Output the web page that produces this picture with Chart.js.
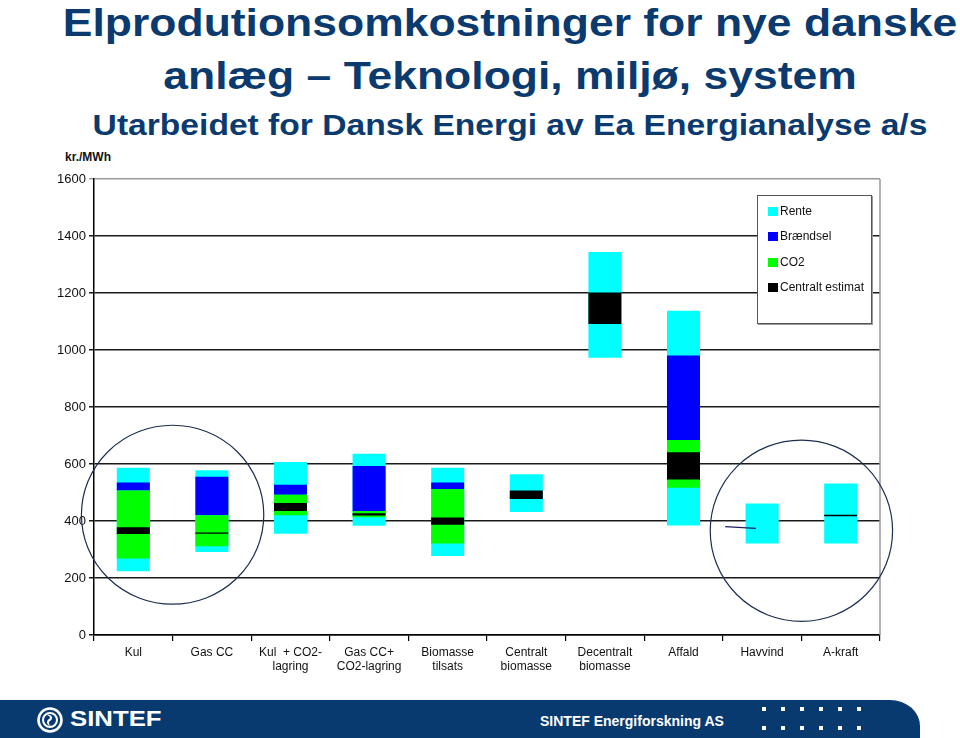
<!DOCTYPE html>
<html>
<head>
<meta charset="utf-8">
<script src="https://cdn.jsdelivr.net/npm/chart.js@4.4.0/dist/chart.umd.min.js"></script>
<style>
  html, body { margin: 0; padding: 0; background: #fff; }
  body { width: 960px; height: 738px; position: relative; overflow: hidden; font-family: "Liberation Sans", Arial, sans-serif; }
  .t { position: absolute; left: 0; width: 1020px; text-align: center; color: #0b3a6e; font-weight: bold; white-space: nowrap; transform-origin: 510px 0; }
  #chartWrap { position: absolute; left: 0; top: 140px; width: 960px; height: 545px; }
  #unit { position: absolute; left: 65px; top: 150px; font-size: 12px; font-weight: bold; color: #111; }
  #legend { position: absolute; left: 757px; top: 195px; width: 115px; height: 129px; background: #fff; border: 1px solid #555; box-shadow: 1px 1px 0 #999; box-sizing: border-box; }
  .li { position: absolute; left: 10px; height: 14px; font-size: 12px; color: #111; line-height: 14px; white-space: nowrap; }
  .li span.sw { display: inline-block; width: 10px; height: 9px; vertical-align: -1px; margin-right: 2px; }
  #footer { position: absolute; left: 0; top: 700px; width: 920px; height: 38px; background: #083a6f; border-top-right-radius: 30px 26px; }
  #sintef { position: absolute; left: 70px; top: 706px; font-size: 22px; font-weight: bold; color: #fff; transform: scaleX(1.17); transform-origin: 0 0; line-height: 26px; }
  #energi { position: absolute; left: 540px; top: 713px; font-size: 14px; font-weight: bold; color: #fff; line-height: 16px; }
  .dot { position: absolute; width: 4px; height: 4px; background: #fff; }
</style>
</head>
<body>
<div class="t" style="top:4px;font-size:38px;line-height:38px;transform:scaleX(1.17);">Elprodutionsomkostninger for nye danske</div>
<div class="t" style="top:57px;font-size:38px;line-height:38px;transform:scaleX(1.17);">anlæg – Teknologi, miljø, system</div>
<div class="t" style="top:110px;font-size:30px;line-height:30px;transform:scaleX(1.12);">Utarbeidet for Dansk Energi av Ea Energianalyse a/s</div>
<div id="unit">kr./MWh</div>
<div id="chartWrap"><canvas id="c" width="960" height="545"></canvas></div>
<div id="legend"></div>
<div id="footer"></div>
<svg style="position:absolute;left:36px;top:706px" width="28" height="28" viewBox="0 0 28 28">
  <circle cx="14" cy="14" r="11.5" fill="none" stroke="#fff" stroke-width="2.6"/>
  <circle cx="14" cy="14" r="7" fill="none" stroke="#fff" stroke-width="2"/>
  <path d="M11 9 C 16 8, 18 13, 14 15 C 12 16, 13 19, 15 20 C 10 19, 10 15, 13 13 C 15 12, 14 10, 11 9 Z" fill="#fff"/>
</svg>
<div id="sintef">SINTEF</div>
<div id="energi">SINTEF Energiforskning AS</div>
<div id="dots"></div>
<script>
// ---------- DATA ----------
const categories = ["Kul", "Gas CC", ["Kul  + CO2-", "lagring"], ["Gas CC+", "CO2-lagring"], ["Biomasse", "tilsats"], ["Centralt", "biomasse"], ["Decentralt", "biomasse"], "Affald", "Havvind", "A-kraft"];
const seriesNames = ["Rente", "Brændsel", "CO2", "Centralt estimat"];
const seriesColors = ["#00ffff", "#0000ff", "#00ff00", "#000000"];
const renteRange = [[224, 587], [291, 578], [355, 607], [383, 636], [277, 587], [432, 564], [973, 1344], [384, 1138], [321, 461], [321, 532]];
const braendselRange = [[507, 535], [420, 555], [492, 527], [435, 593], [512, 535], null, null, [684, 981], null, null];
const co2Range = [[268, 507], [311, 420], [420, 492], [413, 435], [321, 512], null, null, [517, 684], null, null];
const centralRange = [[354, 378], [355, 360], [435, 463], [419, 427], [387, 412], [477, 507], [1091, 1202], [546, 641], null, [417, 422]];
const yTickValues = [0, 200, 400, 600, 800, 1000, 1200, 1400, 1600];
// annotations (data space): ellipses [centerCategory, centerValue, radiusCategories, radiusValue]
const ellipseNotes = [[0.5, 422, 1.16, 314], [8.5, 366, 1.16, 318]];
// hand-drawn pointer line next to Havvind: [cat1, val1, cat2, val2]
const lineNotes = [[7.53, 380, 7.92, 374]];

// ---------- LEGEND ----------
const legendEl = document.getElementById('legend');
const legendRows = [15, 40, 66, 91];
seriesNames.forEach((n, i) => {
  const d = document.createElement('div');
  d.className = 'li';
  d.style.top = (legendRows[i] - 7) + 'px';
  d.innerHTML = '<span class="sw" style="background:' + seriesColors[i] + '"></span>' + n;
  legendEl.appendChild(d);
});
// footer dots
const dotsEl = document.getElementById('dots');
for (let r = 0; r < 2; r++) for (let k = 0; k < 6; k++) {
  const d = document.createElement('div');
  d.className = 'dot';
  d.style.left = (762 + 19 * k) + 'px';
  d.style.top = (707 + 19 * r) + 'px';
  dotsEl.appendChild(d);
}

// ---------- CHART ----------
const notesPlugin = {
  id: 'notes',
  afterDatasetsDraw(chart) {
    const ctx = chart.ctx, xs = chart.scales.x, ys = chart.scales.y;
    const catW = xs.getPixelForValue(1) - xs.getPixelForValue(0);
    ctx.save();
    ctx.strokeStyle = '#999';
    ctx.lineWidth = 1.5;
    ctx.beginPath();
    ctx.moveTo(chart.chartArea.right, chart.chartArea.top);
    ctx.lineTo(chart.chartArea.right, chart.chartArea.bottom);
    ctx.stroke();
    ctx.strokeStyle = '#1c2f4f';
    ctx.lineWidth = 1.2;
    ellipseNotes.forEach(e => {
      const cx = xs.getPixelForValue(0) + e[0] * catW;
      const cy = ys.getPixelForValue(e[1]);
      const rx = e[2] * catW;
      const ry = Math.abs(ys.getPixelForValue(e[1] + e[3]) - cy);
      ctx.beginPath();
      ctx.ellipse(cx, cy, rx, ry, 0, 0, Math.PI * 2);
      ctx.stroke();
    });
    ctx.strokeStyle = '#1c2060';
    ctx.lineWidth = 1.3;
    lineNotes.forEach(l => {
      ctx.beginPath();
      ctx.moveTo(xs.getPixelForValue(0) + l[0] * catW, ys.getPixelForValue(l[1]));
      ctx.lineTo(xs.getPixelForValue(0) + l[2] * catW, ys.getPixelForValue(l[3]));
      ctx.stroke();
    });
    ctx.restore();
  }
};

const allRanges = [renteRange, braendselRange, co2Range, centralRange];
const datasets = seriesNames.map((n, i) => ({
  label: n,
  data: allRanges[i],
  backgroundColor: seriesColors[i],
  borderWidth: 0,
  grouped: false,
  order: 4 - i,
  barPercentage: 0.42,
  categoryPercentage: 1.0
}));

new Chart(document.getElementById('c'), {
  type: 'bar',
  data: { labels: categories, datasets: datasets },
  options: {
    responsive: false,
    animation: false,
    layout: { padding: { left: 0, right: 80, top: 39, bottom: 0 } },
    plugins: { legend: { display: false }, tooltip: { enabled: false } },
    scales: {
      x: {
        afterFit(s) { s.height = 50; },
        grid: { drawOnChartArea: false, drawTicks: true, tickLength: 6, color: '#000', lineWidth: 1.2 },
        border: { display: true, color: '#000', width: 1.5 },
        ticks: { color: '#111', font: { family: '"Liberation Sans", Arial, sans-serif', size: 12 }, padding: 4, maxRotation: 0, autoSkip: false }
      },
      y: {
        min: 0, max: 1600,
        afterFit(s) { s.width = 94; },
        afterBuildTicks(s) { s.ticks = yTickValues.map(v => ({ value: v })); },
        grid: {
          color: ctx => (ctx.tick && ctx.tick.value === 1600) ? '#999' : '#1a1a1a',
          lineWidth: 1.5, drawTicks: true, tickLength: 5
        },
        border: { display: true, color: '#000', width: 1.5 },
        ticks: { color: '#111', font: { family: '"Liberation Sans", Arial, sans-serif', size: 13 }, padding: 3, callback: v => String(v) }
      }
    }
  },
  plugins: [notesPlugin]
});
</script>
</body>
</html>
